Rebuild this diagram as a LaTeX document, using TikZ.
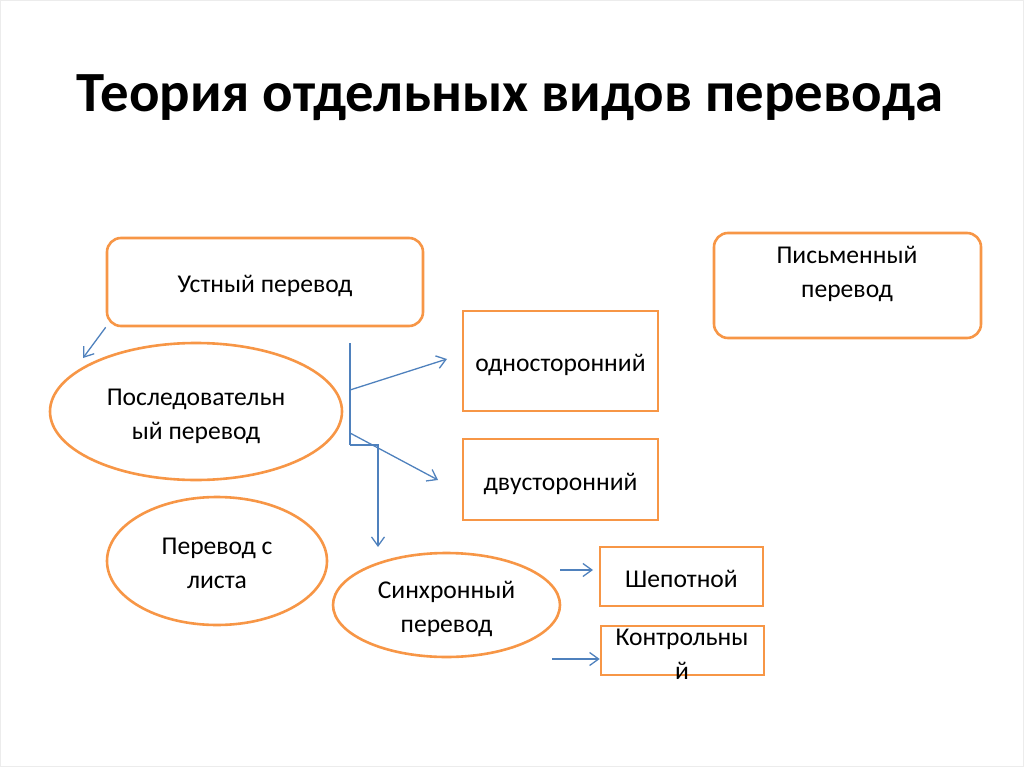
\documentclass[tikz,border=0pt]{standalone}
\usepackage{fontspec}
\setmainfont{Carlito}
\usetikzlibrary{shapes.geometric,arrows.meta}
\definecolor{boxorange}{RGB}{247,150,70}
\definecolor{linkblue}{RGB}{79,129,189}
\newcommand\lstrut{\rule[-6pt]{0pt}{33pt}}

\begin{document}
\begin{tikzpicture}[x=1pt,y=-1pt,
        txt/.style={inner sep=0pt,align=center,font=\fontsize{25.6}{31.5}\selectfont},
        box/.style={txt,draw=boxorange,line width=2.6pt,fill=white},
        rbox/.style={box,rectangle,rounded corners=14pt},
        sqbox/.style={box,rectangle},
        oval/.style={box,ellipse},
        link/.style={draw=linkblue,line width=1.3pt},
        linkto/.style={link,-{Straight Barb[length=9pt,width=13pt,line width=1.3pt]}}]
        \useasboundingbox (0,0) rectangle (1024,767);
        \draw[gray!15,line width=1pt] (0.5,0.5) rectangle (1023.5,766.5);
        \node[anchor=base,font=\fontsize{56.8}{64}\selectfont\bfseries] (title) at (510,112) {Теория отдельных видов перевода};
        \node[rbox,minimum width=316pt,minimum height=88pt] (ustny) at (265,282) {\lstrut Устный перевод};
        \node[rbox,minimum width=267pt,minimum height=105pt] (pism) at (847.5,285.5) {};
        \node[txt] (pismtxt) at (847,269.5) {\lstrut Письменный\\перевод\lstrut};
        \node[sqbox,minimum width=195pt,minimum height=100pt] (odno) at (560.5,361) {\lstrut односторонний};
        \node[sqbox,minimum width=195pt,minimum height=81pt] (dvu) at (560.5,479.5) {\lstrut двусторонний};
        \node[oval,minimum width=292pt,minimum height=137pt] (posl) at (196,411.5) {\lstrut Последовательн\\ый перевод\lstrut};
        \node[oval,minimum width=220pt,minimum height=128pt] (list) at (217,561) {\lstrut Перевод с\\листа\lstrut};
        \node[oval,minimum width=227pt,minimum height=104pt] (sinh) at (446.5,605) {\lstrut Синхронный\\перевод\lstrut};
        \node[sqbox,minimum width=163pt,minimum height=59pt] (shep) at (681.5,576.5) {\lstrut Шепотной};
        \node[sqbox,minimum width=163pt,minimum height=49pt] (kontrol) at (682.5,650.5) {};
        \node[txt] (kontroltxt) at (682,651.5) {\lstrut Контрольны\\й\lstrut};
        \coordinate (poslend) at (83,358);
        \coordinate (trunktop) at (350,343);
        \coordinate (trunkbot) at (350,445);
        \coordinate (elbow) at (378,445);
        \coordinate (sinhend) at (378,547);
        \coordinate (odnostart) at (350,390);
        \coordinate (odnoend) at (447,359);
        \coordinate (dvustart) at (350,433);
        \coordinate (dvuend) at (438,480);
        \coordinate (shepstart) at (560,570);
        \coordinate (shepend) at (593,570);
        \coordinate (kontrolstart) at (552,659);
        \draw[linkto] (ustny.south west) -- (poslend);
        \draw[link] (trunktop) -- (trunkbot);
        \draw[linkto] (trunkbot) -- (elbow) -- (sinhend);
        \draw[linkto] (odnostart) -- (odnoend);
        \draw[linkto] (dvustart) -- (dvuend);
        \draw[linkto] (shepstart) -- (shepend);
        \draw[linkto] (kontrolstart) -- (kontrolstart -| kontrol.west);
\end{tikzpicture}
\end{document}
